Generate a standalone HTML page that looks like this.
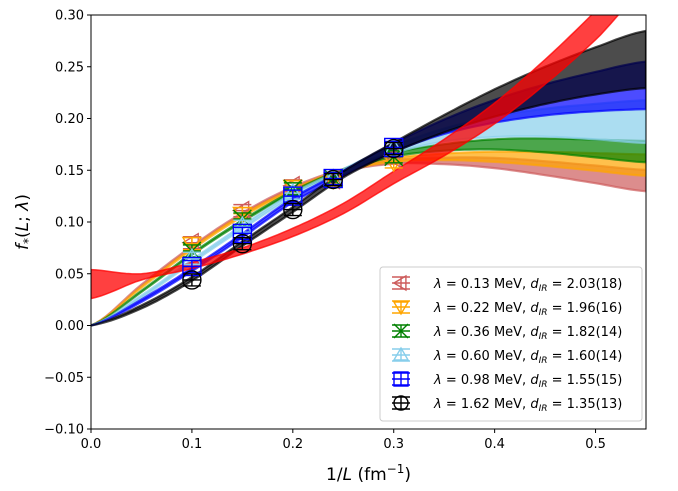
<!DOCTYPE html>
<html><head><meta charset="utf-8"><style>
body{margin:0;background:#fff;}
svg text{font-family:"DejaVu Sans","Liberation Sans",sans-serif;}
</style></head><body>
<svg id="c" width="678" height="486" viewBox="0 0 678 486" xmlns="http://www.w3.org/2000/svg"></svg>
<script>
const gridX = [0,0.05,0.1,0.15,0.2,0.25,0.3,0.35,0.4,0.45,0.5,0.55];
const seriesNames = ['lambda-0.13','lambda-0.22','lambda-0.36','lambda-0.60','lambda-0.98','lambda-1.62'];
const seriesColors = ['#cd5c5c','orange','green','skyblue','blue','black'];
const seriesMarkers = ['left','down','x','up','square','circle'];
const legendLabels = [['0.13','2.03(18)'],['0.22','1.96(16)'],['0.36','1.82(14)'],['0.60','1.60(14)'],['0.98','1.55(15)'],['1.62','1.35(13)']];
const pointX = [0.1,0.15,0.2,0.24,0.3];
const ptRed = [0.080,0.111,0.135,0.141,0.162];
const ptOrange = [0.079,0.108,0.134,0.141,0.158];
const ptGreen = [0.072,0.103,0.132,0.142,0.163];
const ptSky = [0.065,0.096,0.128,0.142,0.171];
const ptBlue = [0.057,0.089,0.125,0.142,0.172];
const ptBlack = [0.044,0.079,0.112,0.141,0.171];
const bandRed = [0,.039,.076,.108,.133,.150,.158,.159,.157,.152,.146,.140];
const bandOrange = [0,.037,.074,.106,.131,.150,.160,.163,.163,.161,.158,.155];
const bandGreen = [0,.033,.069,.101,.129,.150,.165,.172,.175,.174,.171,.168];
const bandSky = [0,.028,.062,.095,.126,.149,.170,.184,.192,.196,.197,.197];
const bandBlue = [0,.024,.054,.087,.121,.147,.172,.192,.207,.218,.226,.232];
const bandBlack = [0,.018,.045,.079,.112,.146,.172,.195,.215,.232,.246,.257];
const bandHW = [0,.0012,.0015,.0018,.002,.0025,.004,.007,.011,.015,.019,.023];
const fitRed = [.04,.047,.058,.072,.09,.113,.143,.172,.205,.245,.29,.34];
const fitRedHW = [.014,.003,.003,.003,.004,.005,.006,.008,.01,.012,.014,.016];
const xTicks = [0,0.1,0.2,0.3,0.4,0.5];
const yTicks = [-0.10,-0.05,0,0.05,0.10,0.15,0.20,0.25,0.30];

const pts=[ptRed,ptOrange,ptGreen,ptSky,ptBlue,ptBlack];
const bands=[bandRed,bandOrange,bandGreen,bandSky,bandBlue,bandBlack];
const hwScale=[0.45,0.45,0.45,0.9,1.0,1.2];
const L=91,R=646,T=15,B=429;
const sx=v=>L+(v-0)/0.55*(R-L);
const sy=v=>B-(v+0.1)/0.4*(B-T);
const NS='http://www.w3.org/2000/svg';
const svg=document.getElementById('c');
function mk(tag,at,parent){const e=document.createElementNS(NS,tag);for(const k in at)e.setAttribute(k,at[k]);(parent||svg).appendChild(e);return e;}
function spline(xs,ys){const out=[];for(let i=0;i<xs.length-1;i++){const y0=ys[Math.max(i-1,0)],y1=ys[i],y2=ys[i+1],y3=ys[Math.min(i+2,ys.length-1)];for(let t=0;t<1;t+=0.1){const t2=t*t,t3=t2*t;const y=0.5*((2*y1)+(-y0+y2)*t+(2*y0-5*y1+4*y2-y3)*t2+(-y0+3*y1-3*y2+y3)*t3);out.push([xs[i]+(xs[i+1]-xs[i])*t,y]);}}out.push([xs[xs.length-1],ys[ys.length-1]]);return out;}
function bandPath(c,hw,sc){const up=spline(gridX,c.map((v,i)=>v+hw[i]*sc)),lo=spline(gridX,c.map((v,i)=>v-hw[i]*sc)).reverse();let d='M'+up.map(p=>sx(p[0]).toFixed(1)+','+sy(p[1]).toFixed(1)).join('L');d+='L'+lo.map(p=>sx(p[0]).toFixed(1)+','+sy(p[1]).toFixed(1)).join('L')+'Z';return d;}
const clip=mk('clipPath',{id:'pc'});mk('rect',{x:L,y:T,width:R-L,height:B-T},clip);
const plot=mk('g',{'clip-path':'url(#pc)'});


bands.forEach((b,i)=>{
  const p=mk('path',{d:bandPath(b,bandHW,hwScale[i]),fill:seriesColors[i],'fill-opacity':0.7,stroke:seriesColors[i],'stroke-width':2.2,'stroke-opacity':0.7},plot);
  
  
});
const rp=mk('path',{d:bandPath(fitRed,fitRedHW,1),fill:'red','fill-opacity':0.75,stroke:'red','stroke-opacity':0.75,'stroke-width':1.5},plot);


function marker(g,type,x,y,col,s){
  const a={fill:'none',stroke:col,'stroke-width':1.4};
  if(type==='circle')mk('circle',Object.assign({cx:x,cy:y,r:s},a),g);
  if(type==='square')mk('rect',Object.assign({x:x-s,y:y-s,width:2*s,height:2*s},a),g);
  if(type==='up')mk('polygon',Object.assign({points:`${x},${y-s} ${x-s},${y+s*0.7} ${x+s},${y+s*0.7}`},a),g);
  if(type==='down')mk('polygon',Object.assign({points:`${x},${y+s} ${x-s},${y-s*0.7} ${x+s},${y-s*0.7}`},a),g);
  if(type==='left')mk('polygon',Object.assign({points:`${x-s},${y} ${x+s*0.7},${y-s} ${x+s*0.7},${y+s}`},a),g);
  if(type==='x')mk('path',Object.assign({d:`M${x-s},${y-s}L${x+s},${y+s}M${x-s},${y+s}L${x+s},${y-s}`},a),g);
}
function errbar(g,x,y,col){mk('path',{d:`M${x},${y-6}L${x},${y+6}M${x-9},${y-6}L${x+9},${y-6}M${x-9},${y+6}L${x+9},${y+6}M${x-9},${y}L${x+9},${y}`,stroke:col,'stroke-width':1.4,fill:'none'},g);}
pts.forEach((arr,i)=>{
  arr.forEach((v,j)=>{
    const g=mk('g',{});
    
    
    const x=sx(pointX[j]),y=sy(v);
    errbar(g,x,y,seriesColors[i]);
    marker(g,seriesMarkers[i],x,y,seriesColors[i],9);
  });
});
mk('rect',{x:L,y:T,width:R-L,height:B-T,fill:'none',stroke:'#000','stroke-width':1});
xTicks.forEach(v=>{const x=sx(v);mk('line',{x1:x,x2:x,y1:B,y2:B+4,stroke:'#000'});const t=mk('text',{x:x,y:B+19,'text-anchor':'middle','font-size':13});t.textContent=v.toFixed(1);});
yTicks.forEach(v=>{const y=sy(v);mk('line',{x1:L-4,x2:L,y1:y,y2:y,stroke:'#000'});const t=mk('text',{x:L-7,y:y+4.5,'text-anchor':'end','font-size':13});t.textContent=(v<0?'\u2212':'')+Math.abs(v).toFixed(2);});
const xl=mk('text',{x:(L+R)/2,y:480,'text-anchor':'middle','font-size':17});
xl.innerHTML='1/<tspan font-style="italic">L</tspan> (fm<tspan dy="-7" font-size="12">\u22121</tspan><tspan dy="7">)</tspan>';

const yl=mk('text',{x:0,y:0,'text-anchor':'middle','font-size':17,transform:`translate(28,${(T+B)/2}) rotate(-90)`});
yl.innerHTML='<tspan font-style="italic">f</tspan><tspan dy="4" font-size="12">*</tspan><tspan dy="-4">(</tspan><tspan font-style="italic">L</tspan>; <tspan font-style="italic">λ</tspan>)';

const lg=mk('g',{});


mk('rect',{x:380,y:267,width:262,height:154,rx:3,fill:'#fff','fill-opacity':0.85,stroke:'#ccc'},lg);
legendLabels.forEach((lab,i)=>{
  const y=283+i*24;
  const g=mk('g',{},lg);
  
  
  errbar(g,401,y,seriesColors[i]);
  marker(g,seriesMarkers[i],401,y,seriesColors[i],7);
  const t=mk('text',{x:434,y:y+5,'font-size':13},g);
  t.innerHTML=`<tspan font-style="italic">λ</tspan> = ${lab[0]} MeV, <tspan font-style="italic">d</tspan><tspan font-style="italic" font-size="9" dy="3">IR</tspan><tspan dy="-3"> = ${lab[1]}</tspan>`;
});
</script>
</body></html>
